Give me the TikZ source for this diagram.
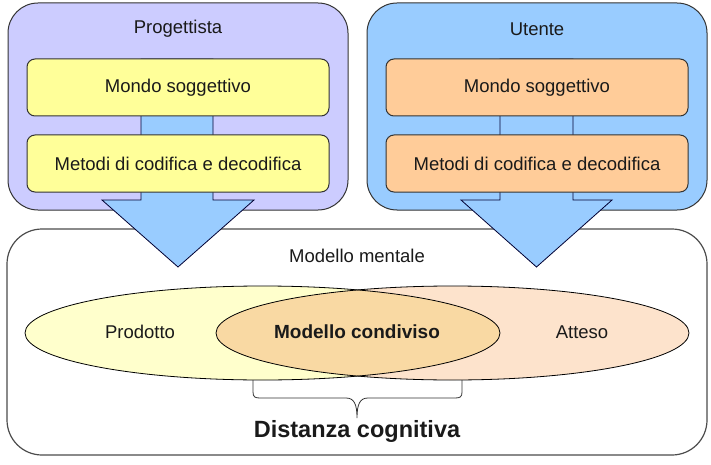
\documentclass[tikz,border=0pt]{standalone}
\usepackage{fontspec}
\setmainfont{Liberation Sans}
\usetikzlibrary{shapes.geometric}
\definecolor{purpleC}{HTML}{CCCCFF}
\definecolor{blueC}{HTML}{99CCFF}
\definecolor{yellowC}{HTML}{FFFF99}
\definecolor{orangeC}{HTML}{FFCC99}
\definecolor{ellY}{HTML}{FFFFCC}
\definecolor{ellO}{HTML}{FDE3CC}
\definecolor{ellM}{HTML}{F9D9A3}
\definecolor{lineC}{HTML}{333333}
\definecolor{txtC}{HTML}{1A1A1A}
\tikzset{
  outerbox/.style={draw=lineC, line width=1pt, rounded corners=30pt, minimum width=340pt, minimum height=207pt, inner sep=0pt},
  innerbox/.style={draw=lineC, line width=1pt, rounded corners=8pt, minimum width=302pt, minimum height=57pt, inner sep=0pt, text=txtC, font=\fontsize{18.5}{22}\selectfont},
  bigarrow/.style={fill=blueC, draw=black!80!blue, line width=0.8pt, line join=miter},
  lbl/.style={text=txtC, font=\fontsize{18.5}{22}\selectfont, inner sep=0pt},
  ell/.style={ellipse, draw=black, line width=0.8pt, minimum width=475pt, minimum height=94pt, inner sep=0pt},
}
\begin{document}
\begin{tikzpicture}[x=1pt,y=-1pt]
\useasboundingbox (0,0) rectangle (711,465);
% outer boxes
\node[outerbox, fill=purpleC] (prog) at (178,106.5) {};
\node[outerbox, fill=blueC] (uten) at (537,106.5) {};
\node[lbl] (progt) at (178,29) {Progettista};
\node[lbl] (utent) at (537,29) {Utente};
% bottom box
\node[draw=black!70, line width=1.2pt, rounded corners=35pt, minimum width=700pt, minimum height=226pt, inner sep=0pt, fill=white] (mm) at (357,342) {};
\node[lbl] (mmt) at (357,256) {Modello mentale};
% arrows
\draw[bigarrow] (141,59) -- (213,59) -- (213,200) -- (254,200) -- (178,267) -- (102,200) -- (141,200) -- cycle;
\draw[bigarrow] (500,59) -- (573,59) -- (573,200) -- (612,200) -- (536.5,267) -- (461,200) -- (500,200) -- cycle;
% inner boxes
\node[innerbox, fill=yellowC] (lm) at (178,87.5) {Mondo soggettivo};
\node[innerbox, fill=yellowC] (lc) at (178,163.5) {Metodi di codifica e decodifica};
\node[innerbox, fill=orangeC] (rm) at (537,87.5) {Mondo soggettivo};
\node[innerbox, fill=orangeC] (rc) at (537,163.5) {Metodi di codifica e decodifica};
% ellipses
\fill[ellY] (262.5,333) ellipse [x radius=237.5, y radius=47];
\fill[ellO] (452.5,333) ellipse [x radius=236.5, y radius=47];
\begin{scope}
\clip (262.5,333) ellipse [x radius=237.5, y radius=47];
\fill[ellM] (452.5,333) ellipse [x radius=236.5, y radius=47];
\end{scope}
\node[ell, minimum width=475pt] (prod) at (262.5,333) {};
\node[ell, minimum width=473pt] (att) at (452.5,333) {};
\node[lbl] (prodt) at (140,332) {Prodotto};
\node[lbl] (attt) at (582,332) {Atteso};
\node[lbl, font=\bfseries\fontsize{19}{22}\selectfont] (cond) at (357,332) {Modello condiviso};
% brace
\coordinate (bl) at (253,380);
\coordinate (br) at (462,380);
\draw[black!80, line width=0.8pt] (bl) -- (253,392) .. controls (253,397) and (255,398) .. (260,398) -- (346,398) .. controls (354,398) and (357,404) .. (357,418) .. controls (357,404) and (360,398) .. (368,398) -- (455,398) .. controls (460,398) and (462,397) .. (462,392) -- (br);
\node[lbl, font=\bfseries\fontsize{23.5}{26}\selectfont] (dist) at (357,431) {Distanza cognitiva};
\end{tikzpicture}
\end{document}
